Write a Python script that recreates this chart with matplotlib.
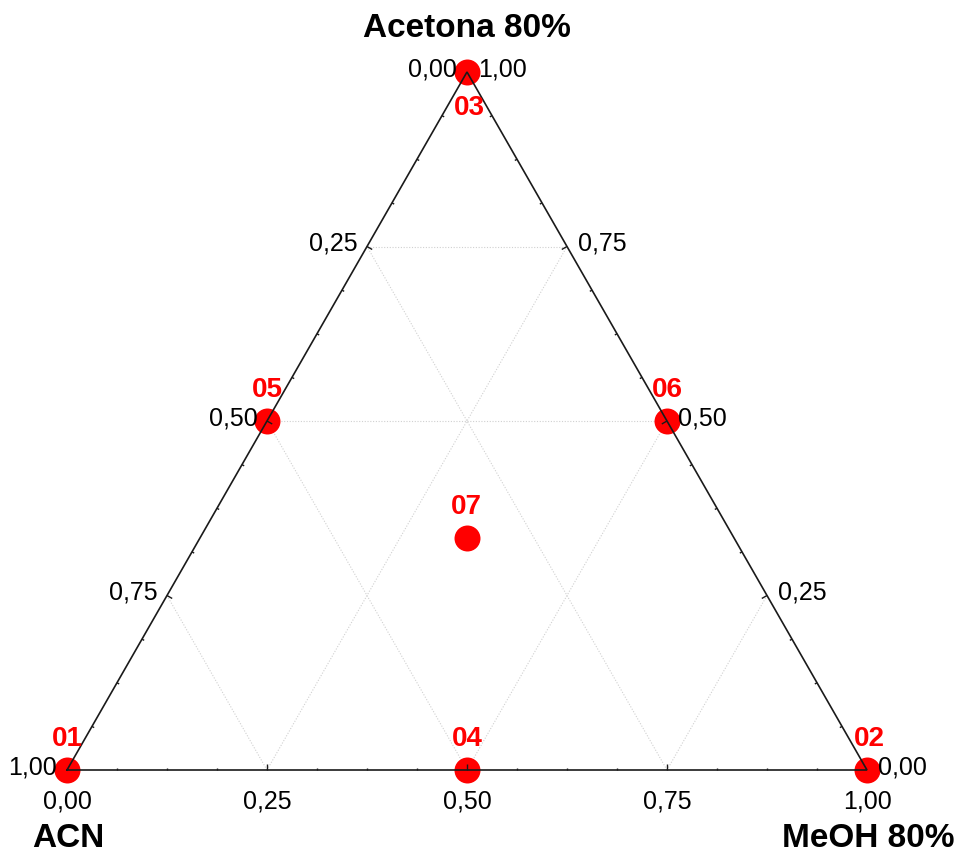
import numpy as np
import matplotlib.pyplot as plt
from matplotlib.collections import LineCollection

plt.rcParams['font.family'] = ['Liberation Sans', 'DejaVu Sans']

# Mixture design points: fractions of ACN, MeOH 80% and Acetona 80%
runs = ['01', '02', '03', '04', '05', '06', '07']
acn = [1.0, 0.0, 0.0, 0.5, 0.5, 0.0, 0.333]
meoh = [0.0, 1.0, 0.0, 0.5, 0.0, 0.5, 0.333]
acetona = [0.0, 0.0, 1.0, 0.0, 0.5, 0.5, 0.333]

major = [0.25, 0.50, 0.75]
minor = [i / 16 for i in range(1, 16) if i % 4 != 0]
ticklabels = ['0,00', '0,25', '0,50', '0,75', '1,00']
tickvals = [0.0, 0.25, 0.5, 0.75, 1.0]


def tern(a, m, c):
    # ACN at bottom-left, MeOH at bottom-right, Acetona on top
    a, m, c = np.asarray(a), np.asarray(m), np.asarray(c)
    return m + c / 2, c


fig = plt.figure(figsize=(9.61, 8.52), dpi=100)
ax = fig.add_axes([0, 0, 1, 1])
ax.axis('off')
ax.set_xlim(-67 / 800, 894 / 800)
ax.set_ylim(-82 / 698, 1 + 72 / 698)

# grid lines at 0.25 / 0.5 / 0.75
grid = []
for v in major:
    grid.append([tern(v, 1 - v, 0), tern(v, 0, 1 - v)])    # constant ACN
    grid.append([tern(1 - v, v, 0), tern(0, v, 1 - v)])    # constant MeOH
for v in [0.5, 0.75]:
    grid.append([tern(1 - v, 0, v), tern(0, 1 - v, v)])    # constant Acetona
ax.add_collection(LineCollection(grid, colors='#d0d0d0', linewidths=0.8,
                                 linestyles=(0, (1, 1.5)), zorder=1))

# data points (edges are drawn over them)
px, py = tern(acn, meoh, acetona)
ax.scatter(px, py, s=350, color='#ff0000', zorder=2, linewidths=0)

# triangle outline
corners = [tern(1, 0, 0), tern(0, 1, 0), tern(0, 0, 1), tern(1, 0, 0)]
ax.plot([c[0] for c in corners], [c[1] for c in corners],
        color='#1a1a1a', lw=1.2, zorder=3, solid_joinstyle='miter')

# ticks: short segments pointing into the triangle, sized in pixels
trans = ax.transData
inv = trans.inverted()
centre = trans.transform(tern(1 / 3, 1 / 3, 1 / 3))


def edge_ticks(points, length):
    segs = np.array([trans.transform(p) for p in points])
    direc = segs[-1] - segs[0]
    normal = np.array([-direc[1], direc[0]]) / np.hypot(*direc)
    if np.dot(centre - segs[0], normal) < 0:
        normal = -normal
    return [[inv.transform(d), inv.transform(d + normal * length)] for d in segs]


ticks = []
for vals, ln in [(major, 6), (minor, 2.5)]:
    vals = list(vals)
    ticks += edge_ticks([tern(1 - v, v, 0) for v in [0] + vals + [1]], ln)[1:-1]
    ticks += edge_ticks([tern(1 - v, 0, v) for v in [0] + vals + [1]], ln)[1:-1]
    ticks += edge_ticks([tern(0, 1 - v, v) for v in [0] + vals + [1]], ln)[1:-1]
ax.add_collection(LineCollection(ticks, colors='#1a1a1a', linewidths=1.0, zorder=3))

tick_font = dict(fontsize=18, color='black')
# bottom axis: MeOH fraction
for v, lab in zip(tickvals, ticklabels):
    ax.annotate(lab, tern(1 - v, v, 0), xytext=(0, -23), textcoords='offset points',
                ha='center', va='center', **tick_font)
# left axis: ACN fraction (1 at the bottom, 0 at the top)
for v, lab in zip(tickvals, ticklabels):
    ax.annotate(lab, tern(v, 0, 1 - v), xytext=(-7, 2), textcoords='offset points',
                ha='right', va='center', **tick_font)
# right axis: Acetona fraction
for v, lab in zip(tickvals, ticklabels):
    ax.annotate(lab, tern(0, 1 - v, v), xytext=(8, 2), textcoords='offset points',
                ha='left', va='center', **tick_font)

# run labels
for name, x, y in zip(runs, px, py):
    dy = -26 if name == '03' else 22
    ax.annotate(name, (x, y), xytext=(2 if name in ('02', '03') else 0, dy),
                textcoords='offset points', ha='center', va='center',
                fontsize=20, fontweight='bold', color='#ff0000')

# component names at the vertices
title_font = dict(fontsize=24, fontweight='bold', color='black',
                  ha='center', va='center', textcoords='offset points')
ax.annotate('Acetona 80%', tern(0, 0, 1), xytext=(0, 31), **title_font)
ax.annotate('ACN', tern(1, 0, 0), xytext=(1, -49), **title_font)
ax.annotate('MeOH 80%', tern(0, 1, 0), xytext=(1, -49), **title_font)

fig.savefig('out.png', dpi=100)
